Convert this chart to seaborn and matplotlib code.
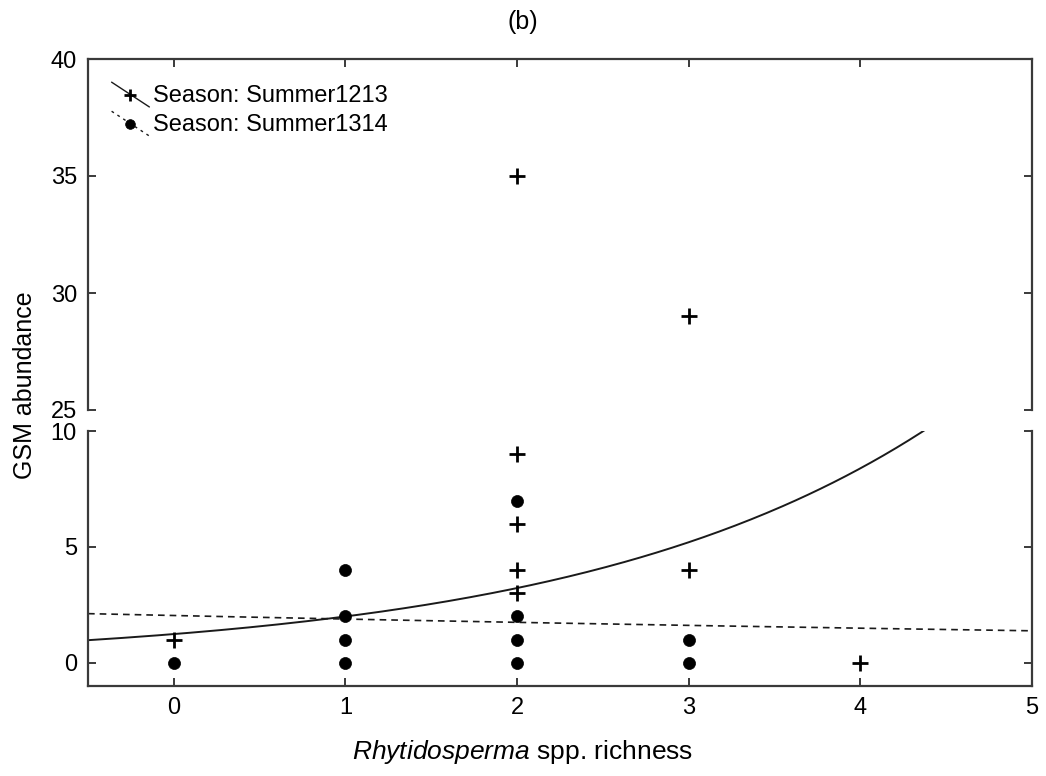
import numpy as np
import pandas as pd
import matplotlib
matplotlib.use("Agg")
import matplotlib.pyplot as plt
import seaborn as sns
from matplotlib.lines import Line2D
from matplotlib.legend_handler import HandlerBase

# ---- data ----
x_1213 = [0, 2, 2, 2, 2, 2, 3, 3, 4]
y_1213 = [1, 35, 9, 6, 4, 3, 29, 4, 0]
x_1314 = [0, 1, 1, 1, 1, 2, 2, 2, 2, 3, 3]
y_1314 = [0, 4, 2, 1, 0, 7, 2, 1, 0, 1, 0]
# Poisson (log-link) fit coefficients: intercept, slope
fit_1213 = [0.215, 0.478]
fit_1314 = [0.713, -0.078]
season_labels = ["Season: Summer1213", "Season: Summer1314"]
x_ticks = [0, 1, 2, 3, 4, 5]
y_ticks_top = [25, 30, 35, 40]
y_ticks_bot = [0, 5, 10]

sns.set_theme(style="white")
plt.rcParams["font.family"] = ["Liberation Sans", "DejaVu Sans"]
plt.rcParams["mathtext.fontset"] = "custom"
plt.rcParams["mathtext.it"] = "Liberation Sans:italic"
plt.rcParams["mathtext.rm"] = "Liberation Sans"
plt.rcParams["text.color"] = "black"

pts = pd.concat([
    pd.DataFrame({"x": x_1213, "y": y_1213, "Season": "Summer1213"}),
    pd.DataFrame({"x": x_1314, "y": y_1314, "Season": "Summer1314"}),
])
xs = np.linspace(-0.5, 5, 300)
curves = pd.concat([
    pd.DataFrame({"x": xs, "y": np.exp(fit_1213[0] + fit_1213[1] * xs), "Season": "Summer1213"}),
    pd.DataFrame({"x": xs, "y": np.exp(fit_1314[0] + fit_1314[1] * xs), "Season": "Summer1314"}),
])

W, H = 1046, 776
fig = plt.figure(figsize=(W / 100, H / 100), dpi=100)
L, R = 88 / W, 1032 / W
ax_top = fig.add_axes([L, 1 - 410 / H, R - L, (410 - 59) / H])
ax_bot = fig.add_axes([L, 1 - 686 / H, R - L, (686 - 431) / H])

ink = "#1a1a1a"
spine_c = "#3a3a3a"
for ax in (ax_top, ax_bot):
    c1 = curves[curves.Season == "Summer1213"]
    c2 = curves[curves.Season == "Summer1314"]
    sns.lineplot(data=c1, x="x", y="y", ax=ax, color=ink, lw=1.4, legend=False, sort=False)
    sns.lineplot(data=c2, x="x", y="y", ax=ax, color=ink, lw=1.2, legend=False, sort=False,
                 linestyle=(0, (4, 3)))
    p1 = pts[pts.Season == "Summer1213"]
    p2 = pts[pts.Season == "Summer1314"]
    sns.scatterplot(data=p1, x="x", y="y", ax=ax, marker="+", s=120, color="black",
                    linewidth=2.0, legend=False, zorder=5)
    sns.scatterplot(data=p2, x="x", y="y", ax=ax, marker="o", s=75, color="black",
                    edgecolor="black", linewidth=0.5, legend=False, zorder=5)
    ax.set_xlim(-0.5, 5)
    ax.set_xlabel("")
    ax.set_ylabel("")
    for s in ax.spines.values():
        s.set_color(spine_c)
        s.set_linewidth(1.6)
    ax.tick_params(direction="in", length=6, width=1.4, color=spine_c,
                   labelsize=17, labelcolor="black", pad=8)

ax_top.set_ylim(25, 40)
ax_top.set_yticks(y_ticks_top)
ax_top.set_xticks(x_ticks)
ax_top.spines["bottom"].set_visible(False)
ax_top.tick_params(axis="x", bottom=False, top=True, labelbottom=False, labeltop=False)
ax_top.tick_params(axis="y", left=True, right=True, labelleft=True, labelright=False)

ax_bot.set_ylim(-1, 10)
ax_bot.set_yticks(y_ticks_bot)
ax_bot.set_xticks(x_ticks)
ax_bot.spines["top"].set_visible(False)
ax_bot.tick_params(axis="x", bottom=True, top=False, labelbottom=True)
ax_bot.tick_params(axis="y", left=True, right=True, labelleft=True, labelright=False)


class DiagHandler(HandlerBase):
    def __init__(self, marker, ls, ms, mew):
        super().__init__()
        self.marker, self.ls, self.ms, self.mew = marker, ls, ms, mew

    def create_artists(self, legend, orig_handle, xdescent, ydescent, width, height,
                       fontsize, trans):
        x0, x1 = -xdescent, width - xdescent
        y0, y1 = height * 1.2 - ydescent, -height * 0.3 - ydescent
        ln = Line2D([x0, x1], [y0, y1], color=ink, lw=1.0, linestyle=self.ls)
        ln.set_transform(trans)
        mk = Line2D([(x0 + x1) / 2], [(y0 + y1) / 2], marker=self.marker, ls="none",
                    color="black", markersize=self.ms, markeredgewidth=self.mew)
        mk.set_transform(trans)
        return [ln, mk]


h1 = Line2D([], [])
h2 = Line2D([], [])
ax_top.legend([h1, h2], season_labels,
              handler_map={h1: DiagHandler("+", "-", 9, 2.0),
                           h2: DiagHandler("o", (0, (2, 3)), 7, 0.5)},
              loc="upper left", bbox_to_anchor=(0.025, 1 - (85 - 59) / 351),
              frameon=False, fontsize=17, handlelength=1.6, handletextpad=0.15,
              labelspacing=0.3, borderpad=0, borderaxespad=0)

fig.text(523 / W, 1 - 22 / H, "(b)", ha="center", va="center", fontsize=18)
fig.text(25 / W, 1 - 385 / H, "GSM abundance", ha="center", va="center",
         rotation=90, fontsize=18)
fig.text(523 / W, 1 - 752 / H, r"$\it{Rhytidosperma}$ spp. richness", ha="center",
         va="center", fontsize=19)

fig.savefig("out.png", dpi=100)
